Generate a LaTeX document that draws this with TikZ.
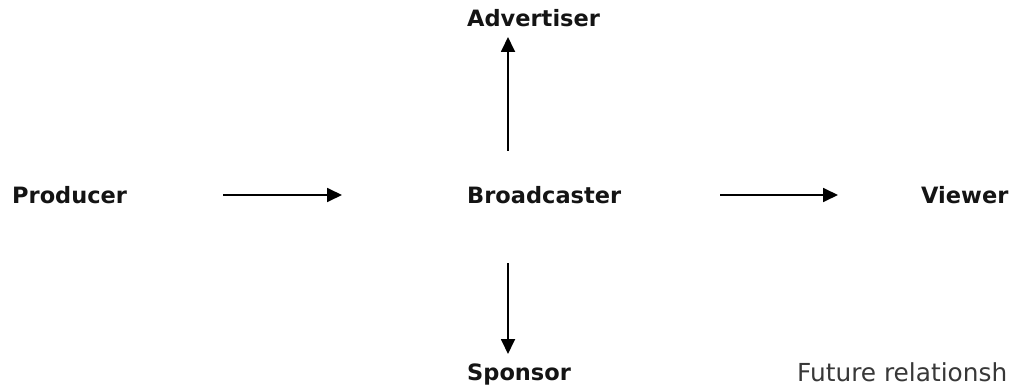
\documentclass[tikz,border=0pt]{standalone}
\usepackage{fontspec}
\setmainfont{DejaVu Sans}
\usetikzlibrary{arrows.meta}
\begin{document}
\begin{tikzpicture}[x=1pt,y=-1pt,
  party/.style={inner sep=0pt,anchor=base west,font=\fontsize{22.5}{24}\selectfont\bfseries,text=black!92},
  flow/.style={line width=1.8pt,-{Triangle[length=15pt,width=14pt]}},
  caption/.style={inner sep=0pt,anchor=base west,font=\fontsize{24.8}{26}\selectfont,text=black!78}]
  \useasboundingbox (0,0) rectangle (1012,385);
  % the parties
  \node[party] (prod) at (12,204) {Producer};
  \node[party] (bc)   at (467,204) {Broadcaster};
  \node[party] (view) at (921,204) {Viewer};
  \node[party] (adv)  at (467,27) {Advertiser};
  \node[party] (spon) at (467,380) {Sponsor};
  % arrow ends, placed clear of the labels
  \coordinate (p1) at (223,195);
  \coordinate (p2) at (342,195);
  \coordinate (v1) at (720,195);
  \coordinate (v2) at (838,195);
  \coordinate (a1) at (508,151);
  \coordinate (a2) at (508,37);
  \coordinate (s1) at (508,263);
  \coordinate (s2) at (508,354);
  \draw[flow] (p1) -- (p2);
  \draw[flow] (v1) -- (v2);
  \draw[flow] (a1) -- (a2);
  \draw[flow] (s1) -- (s2);
  \node[caption] (fut) at (797,381.5) {Future relationsh};
\end{tikzpicture}
\end{document}
